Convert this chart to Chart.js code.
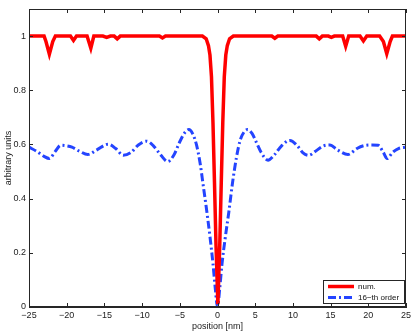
<!DOCTYPE html>
<html>
<head>
<meta charset="utf-8">
<script src="https://cdn.jsdelivr.net/npm/chart.js@4/dist/chart.umd.min.js"></script>
<style>
  html, body { margin: 0; padding: 0; background: #fff; }
  canvas { display: block; }
</style>
</head>
<body>
<canvas id="profileChart" width="415" height="332"></canvas>
<script>
// numerical solution
const numX = [-25, -23, -22.75, -22.3, -21.85, -21.5, -20, -19.5, -19.1, -18.7, -17.3, -16.8, -16.4,
  -15.2, -14.7, -14.2, -13.7, -13.3, -12.9, -10, -7.7, -7.3, -6.9, -4, -2.0, -1.5, -1.2, -1.0, -0.8,
  -0.6, -0.4, -0.2, 0.05, 0.3, 0.5, 0.7, 0.9, 1.1, 1.3, 1.6, 2.1, 4, 7.2, 7.6, 8.0, 10, 13.1, 13.5,
  13.9, 14.7, 15.1, 15.5, 16.6, 17.0, 17.4, 18.9, 19.35, 19.8, 21.5, 22.0, 22.45, 22.9, 23.2, 25];
const numY = [1, 1, 0.98, 0.933, 0.98, 1, 1, 1, 0.984, 1, 1, 0.955, 1,
  1, 0.995, 1, 1, 0.99, 1, 1, 1, 0.993, 1, 1, 1, 0.99, 0.965, 0.93, 0.85,
  0.68, 0.46, 0.23, 0.01, 0.23, 0.46, 0.68, 0.85, 0.93, 0.965, 0.99, 1, 1, 1, 0.992, 1, 1, 1, 0.99,
  1, 1, 0.995, 1, 1, 0.962, 1, 1, 0.982, 1, 1, 0.98, 0.935, 0.98, 1, 1];

// 16-th order approximation
const fitX = [-25, -24, -23, -22.3, -21.5, -20.8, -20, -19.3, -18.3, -17.2, -16, -14.5, -13.5, -12.5,
  -11.5, -10.5, -9.4, -8.5, -7.5, -6.6, -5.8, -5, -4.3, -3.8, -3.3, -2.8, -2.3, -1.9, -1.5, -1.0,
  -0.6, -0.3, 0, 0.3, 0.6, 1.0, 1.5, 2.0, 2.5, 3.0, 3.5, 4.0, 4.6, 5.2, 5.8, 6.7, 7.5, 8.5, 9.6,
  10.6, 11.3, 12.1, 13.0, 14.0, 14.9, 15.9, 17.3, 18.5, 19.5, 20.5, 21.3, 22.0, 22.5, 23.2, 24, 25];
const fitY = [0.59, 0.575, 0.556, 0.548, 0.575, 0.597, 0.595, 0.59, 0.575, 0.563, 0.58, 0.601, 0.585, 0.56,
  0.57, 0.598, 0.612, 0.595, 0.56, 0.537, 0.56, 0.61, 0.645, 0.655, 0.64, 0.6, 0.53, 0.45, 0.37, 0.26,
  0.16, 0.07, 0.0, 0.07, 0.16, 0.25, 0.35, 0.46, 0.55, 0.615, 0.645, 0.655, 0.64, 0.605, 0.57, 0.542, 0.56, 0.595, 0.615,
  0.595, 0.57, 0.56, 0.575, 0.594, 0.598, 0.58, 0.563, 0.585, 0.596, 0.598, 0.597, 0.57, 0.548, 0.57, 0.585, 0.59];

const seriesNames = ["num.", "16\u2212th order"];
const xTicks = [-25, -20, -15, -10, -5, 0, 5, 10, 15, 20, 25];
const yTicks = [0, 0.2, 0.4, 0.6, 0.8, 1];

const fontFamily = "'Liberation Sans', Arial, sans-serif";
const axisColor = "#262626";

const fmt = (v) => String(v).replace("-", "\u2212");

// ticks pointing inward on all four sides, plus the box
const boxTicks = {
  id: "boxTicks",
  afterDraw(chart) {
    const { ctx, chartArea: a, scales } = chart;
    ctx.save();
    ctx.strokeStyle = axisColor;
    ctx.lineWidth = 1;
    ctx.strokeRect(a.left + 0.5, a.top + 0.5, a.right - a.left - 1, a.bottom - a.top - 1);
    ctx.beginPath();
    xTicks.forEach((t) => {
      const px = Math.round(scales.x.getPixelForValue(t)) + 0.5;
      ctx.moveTo(px, a.bottom); ctx.lineTo(px, a.bottom - 4);
      ctx.moveTo(px, a.top); ctx.lineTo(px, a.top + 4);
    });
    yTicks.forEach((t) => {
      const py = Math.round(scales.y.getPixelForValue(t)) + 0.5;
      ctx.moveTo(a.left, py); ctx.lineTo(a.left + 4, py);
      ctx.moveTo(a.right, py); ctx.lineTo(a.right - 4, py);
    });
    ctx.stroke();
    ctx.restore();
  }
};

// legend box in the lower right corner of the axes
const cornerLegend = {
  id: "cornerLegend",
  afterDraw(chart) {
    const { ctx, chartArea: a } = chart;
    const w = 81, h = 23;
    const x0 = a.right - 2 - w, y0 = a.bottom - 4 - h;
    ctx.save();
    ctx.fillStyle = "#fff";
    ctx.fillRect(x0, y0, w, h);
    ctx.strokeStyle = axisColor;
    ctx.lineWidth = 1;
    ctx.strokeRect(x0 + 0.5, y0 + 0.5, w, h);
    ctx.font = "8px " + fontFamily;
    ctx.textBaseline = "middle";
    chart.data.datasets.forEach((ds, i) => {
      const y = y0 + 6.5 + i * 11;
      ctx.beginPath();
      ctx.strokeStyle = ds.borderColor;
      ctx.lineWidth = ds.borderWidth;
      ctx.setLineDash(ds.borderDash || []);
      ctx.moveTo(x0 + 5, y);
      ctx.lineTo(x0 + 31, y);
      ctx.stroke();
      ctx.setLineDash([]);
      ctx.fillStyle = "#111";
      ctx.fillText(ds.label, x0 + 35, y);
    });
    ctx.restore();
  }
};

const ctx = document.getElementById("profileChart").getContext("2d");
new Chart(ctx, {
  type: "line",
  data: {
    datasets: [
      {
        label: seriesNames[0],
        data: numX.map((x, i) => ({ x: x, y: numY[i] })),
        borderColor: "#ff0000",
        borderWidth: 3.5,
        pointRadius: 0,
        tension: 0,
        fill: false
      },
      {
        label: seriesNames[1],
        data: fitX.map((x, i) => ({ x: x, y: fitY[i] })),
        borderColor: "#2444ff",
        borderWidth: 3,
        borderDash: [8, 3, 2, 3],
        pointRadius: 0,
        cubicInterpolationMode: "monotone",
        fill: false
      }
    ]
  },
  options: {
    responsive: false,
    animation: false,
    devicePixelRatio: 1,
    layout: { padding: { top: 9, right: 9, left: 0, bottom: 0 } },
    plugins: {
      legend: { display: false },
      tooltip: { enabled: false }
    },
    scales: {
      x: {
        type: "linear",
        min: -25,
        max: 25,
        afterBuildTicks: (s) => { s.ticks = xTicks.map((v) => ({ value: v })); },
        afterFit: (s) => { s.height = 25; },
        ticks: {
          callback: (v) => fmt(v),
          font: { family: fontFamily, size: 9 },
          color: "#222",
          padding: 3,
          maxRotation: 0,
          autoSkip: false
        },
        grid: { display: false, drawTicks: false },
        border: { display: true, color: axisColor },
        title: {
          display: true,
          text: "position [nm]",
          font: { family: fontFamily, size: 9 },
          color: "#222",
          padding: { top: 0, bottom: 0 }
        }
      },
      y: {
        type: "linear",
        min: 0,
        max: 1.1,
        afterBuildTicks: (s) => { s.ticks = yTicks.map((v) => ({ value: v })); },
        afterFit: (s) => { s.width = 29; },
        ticks: {
          callback: (v) => fmt(v),
          font: { family: fontFamily, size: 9 },
          color: "#222",
          padding: 3,
          autoSkip: false
        },
        grid: { display: false, drawTicks: false },
        border: { display: true, color: axisColor },
        title: {
          display: true,
          text: "arbitrary units",
          font: { family: fontFamily, size: 9 },
          color: "#222",
          padding: { top: 3, bottom: 0 }
        }
      }
    }
  },
  plugins: [boxTicks, cornerLegend]
});
</script>
</body>
</html>
